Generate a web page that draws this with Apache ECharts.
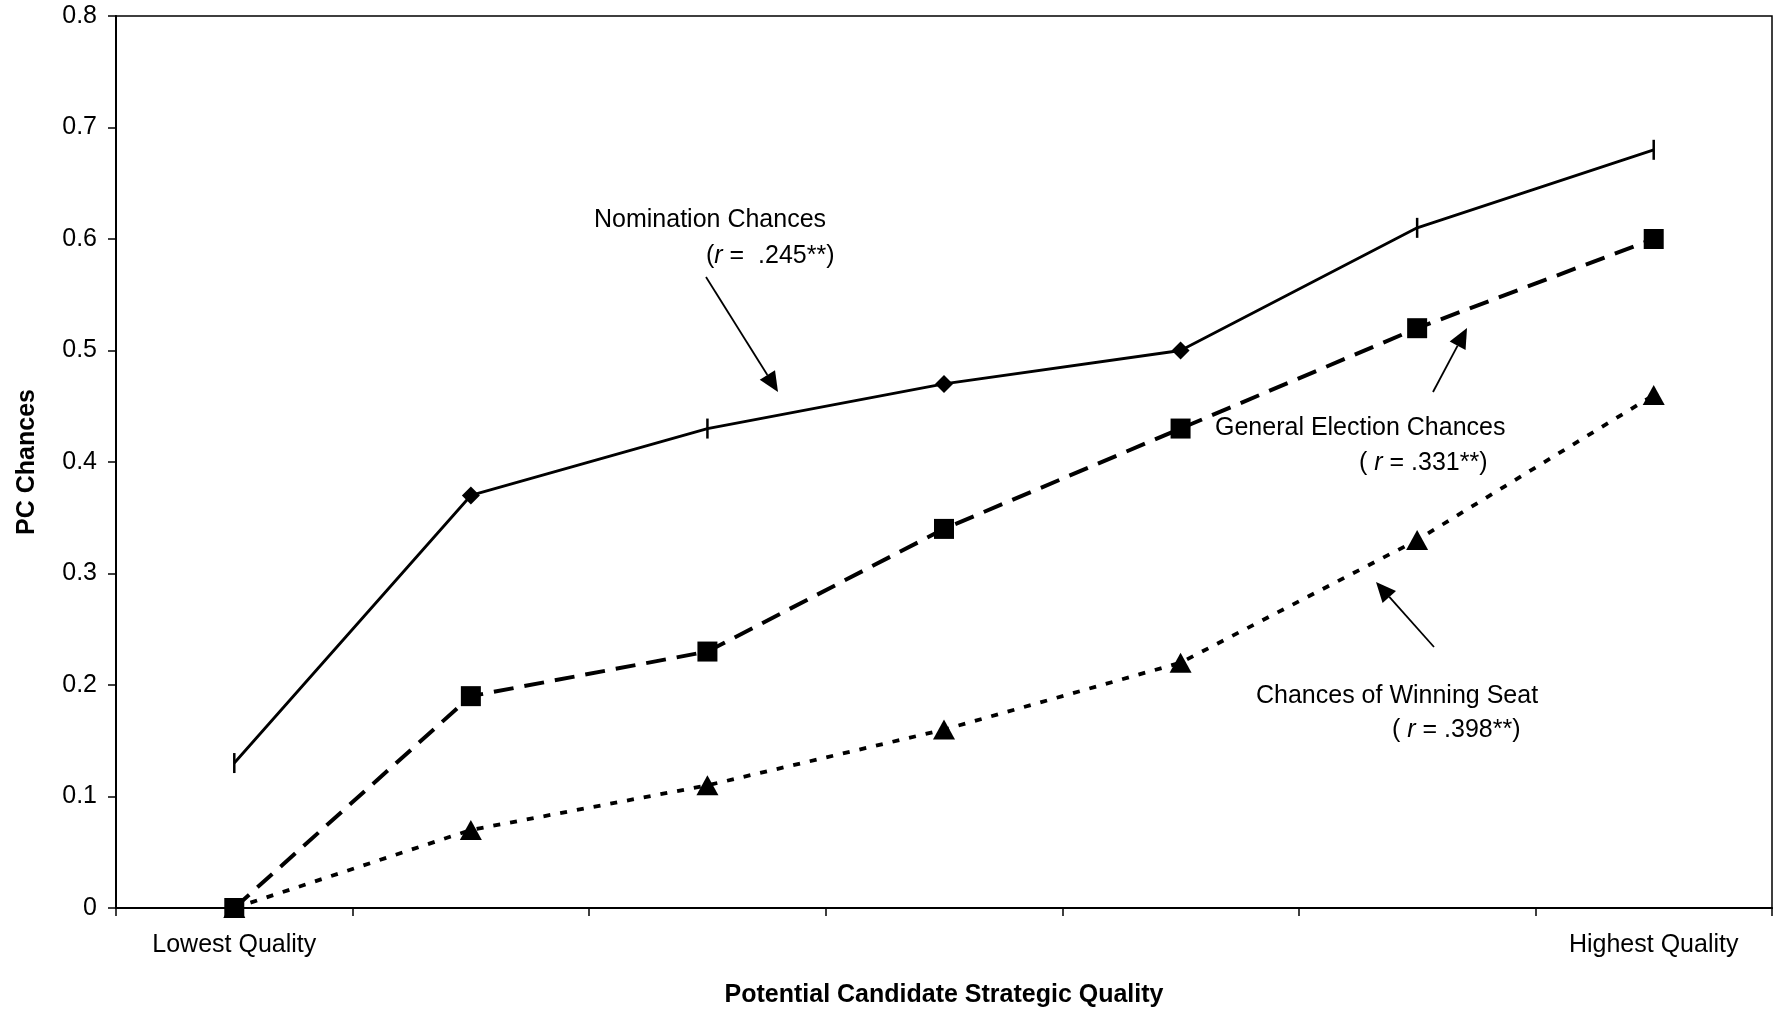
<!DOCTYPE html>
<html>
<head>
<meta charset="utf-8">
<title>PC Chances by Potential Candidate Strategic Quality</title>
<script src="https://cdn.jsdelivr.net/npm/echarts@6/dist/echarts.min.js"></script>
<style>
  html, body { margin: 0; padding: 0; background: #fff; }
  #chart { width: 1779px; height: 1009px; }
</style>
</head>
<body>
<div id="chart"></div>
<script>
// quality levels (lowest -> highest), only the ends are labelled
const qualityLevels = ['1', '2', '3', '4', '5', '6', '7']
const qualityLabels = ['Lowest Quality', '', '', '', '', '', 'Highest Quality']

const nominationChances = [0.13, 0.37, 0.43, 0.47, 0.50, 0.61, 0.68]
const generalElectionChances = [0, 0.19, 0.23, 0.34, 0.43, 0.52, 0.60]
const winningSeatChances = [0, 0.07, 0.11, 0.16, 0.22, 0.33, 0.46]

// the nomination series mixes two marker shapes in the original
const nominationMarkers = ['bar', 'diamond', 'bar', 'diamond', 'diamond', 'bar', 'bar']

const FONT = "'Liberation Sans', Arial, Helvetica, sans-serif"
const FS = 25

const chart = echarts.init(document.getElementById('chart'))

function arrow(x1, y1, x2, y2) {
  const a = Math.atan2(y2 - y1, x2 - x1)
  const len = 20, half = 9
  const bx = x2 - len * Math.cos(a), by = y2 - len * Math.sin(a)
  const nx = -Math.sin(a), ny = Math.cos(a)
  return [
    { type: 'line', shape: { x1, y1, x2: bx, y2: by }, style: { stroke: '#000', lineWidth: 1.8 } },
    {
      type: 'polygon',
      shape: { points: [[x2, y2], [bx + nx * half, by + ny * half], [bx - nx * half, by - ny * half]] },
      style: { fill: '#000' }
    }
  ]
}

function note(x, y, text) {
  return {
    type: 'text',
    x, y,
    style: {
      text,
      fill: '#000',
      font: FS + 'px ' + FONT,
      verticalAlign: 'middle',
      rich: {
        i: { fontStyle: 'italic', fontSize: FS, fontFamily: FONT, fill: '#000' }
      }
    }
  }
}

const option = {
  backgroundColor: '#fff',
  animation: false,
  textStyle: { fontFamily: FONT, color: '#000' },
  grid: {
    left: 116, right: 7, top: 16, bottom: 101,
    outerBoundsMode: 'none',
    containLabel: false,
    show: true, borderColor: '#000', borderWidth: 1.5, backgroundColor: 'transparent'
  },
  xAxis: {
    type: 'category',
    data: qualityLevels,
    boundaryGap: true,
    name: 'Potential Candidate Strategic Quality',
    nameLocation: 'middle',
    nameGap: 75,
    nameTextStyle: { fontSize: 25, fontWeight: 'bold', color: '#000', fontFamily: FONT },
    axisLine: { lineStyle: { color: '#000', width: 2 } },
    axisTick: { show: true, length: 8, inside: false, lineStyle: { color: '#000', width: 1.5 } },
    axisLabel: {
      interval: 0, margin: 25, fontSize: FS, color: '#000', fontFamily: FONT,
      formatter: (v, i) => qualityLabels[i]
    },
    splitLine: { show: false }
  },
  yAxis: {
    type: 'value',
    min: 0, max: 0.8, interval: 0.1,
    name: 'PC Chances',
    nameLocation: 'middle',
    nameGap: 76,
    nameTextStyle: { fontSize: 25, fontWeight: 'bold', color: '#000', fontFamily: FONT },
    axisLine: { show: true, lineStyle: { color: '#000', width: 2 } },
    axisTick: { show: true, length: 8, lineStyle: { color: '#000', width: 1.5 } },
    axisLabel: { margin: 19, fontSize: FS, color: '#000', fontFamily: FONT },
    splitLine: { show: false }
  },
  series: [
    {
      name: 'Nomination Chances',
      type: 'line',
      data: nominationChances.map((v, i) => ({
        value: v,
        symbol: nominationMarkers[i] === 'bar' ? 'rect' : 'diamond',
        symbolSize: nominationMarkers[i] === 'bar' ? [2.5, 20] : [18, 18]
      })),
      lineStyle: { color: '#000', width: 2.8, type: 'solid' },
      itemStyle: { color: '#000' },
      z: 3
    },
    {
      name: 'General Election Chances',
      type: 'line',
      data: generalElectionChances,
      symbol: 'rect',
      symbolSize: 20,
      lineStyle: { color: '#000', width: 4, type: [20, 11] },
      itemStyle: { color: '#000' },
      z: 3
    },
    {
      name: 'Chances of Winning Seat',
      type: 'line',
      data: winningSeatChances,
      symbol: 'triangle',
      symbolSize: [22, 20],
      lineStyle: { color: '#000', width: 3.8, type: [7, 10] },
      itemStyle: { color: '#000' },
      z: 3
    }
  ],
  graphic: [
    note(594, 220, 'Nomination Chances'),
    note(706, 256, '({i|r} =  .245**)'),
    ...arrow(706, 277, 778, 392),
    note(1215, 428, 'General Election Chances'),
    note(1359, 463, '( {i|r} = .331**)'),
    ...arrow(1433, 392, 1467, 328),
    note(1256, 696, 'Chances of Winning Seat'),
    note(1392, 730, '( {i|r} = .398**)'),
    ...arrow(1434, 647, 1376, 582)
  ]
}

chart.setOption(option)
</script>
</body>
</html>
